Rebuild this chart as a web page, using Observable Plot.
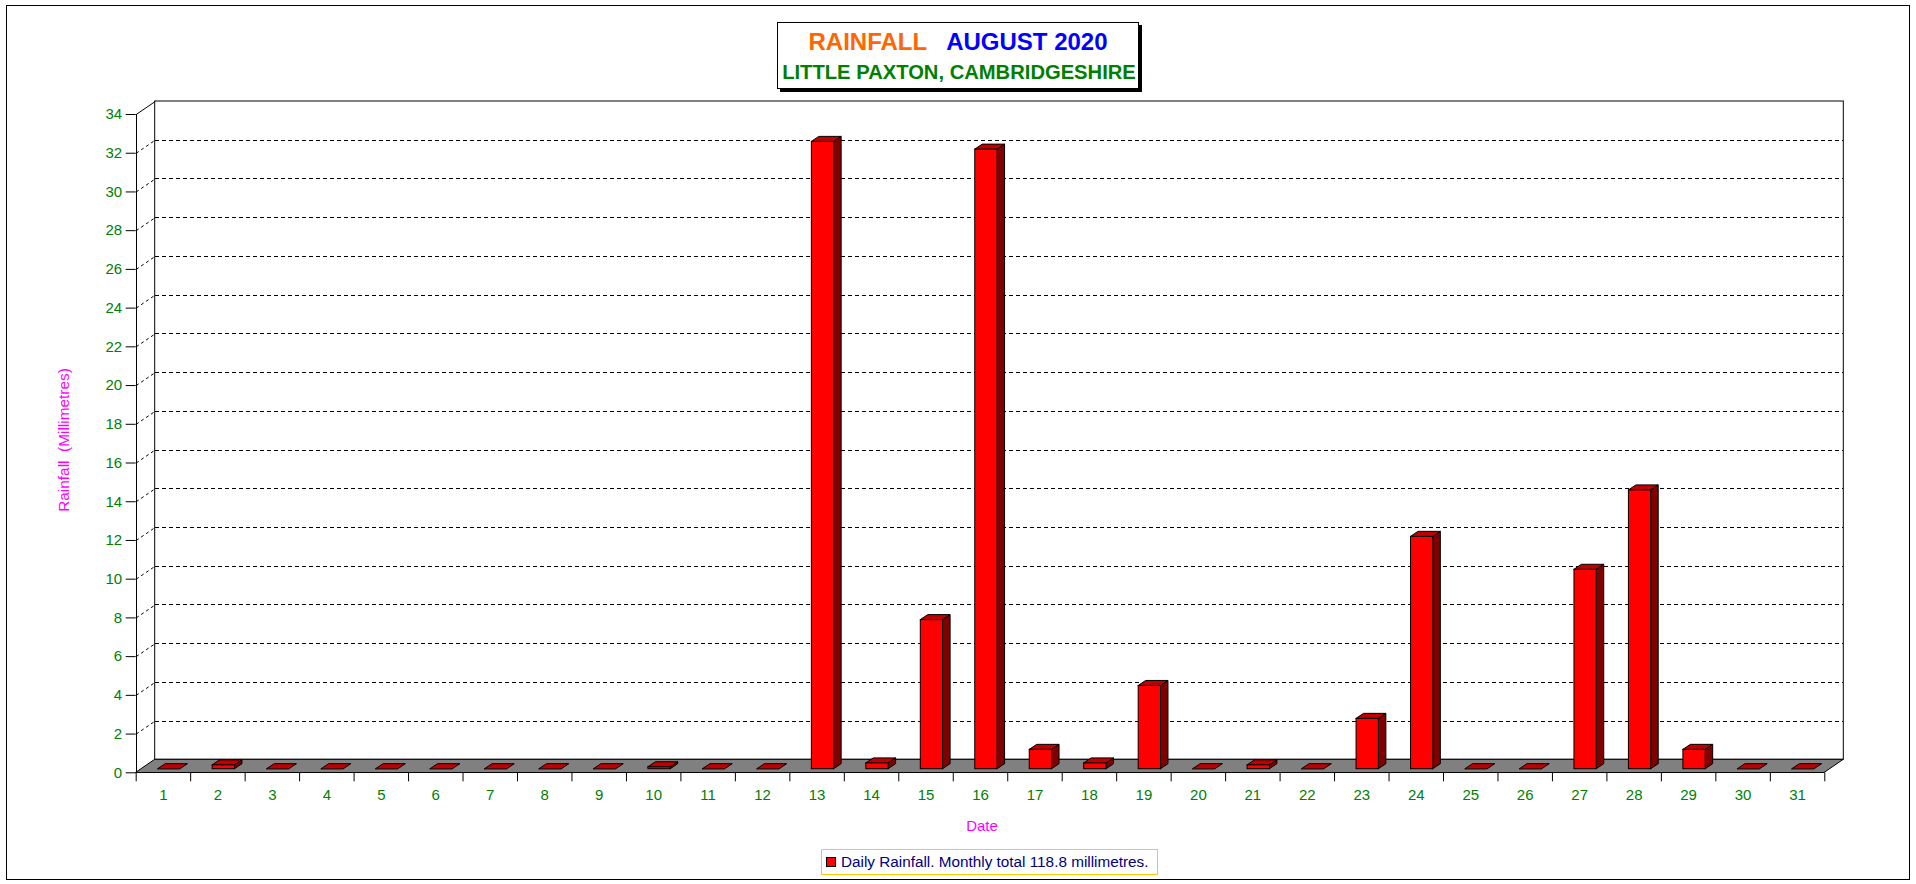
<!DOCTYPE html>
<html><head><meta charset="utf-8">
<script src="https://cdn.jsdelivr.net/npm/d3@7"></script>
<script src="https://cdn.jsdelivr.net/npm/@observablehq/plot@0.6"></script>
<style>
html,body{margin:0;padding:0;background:#fff;overflow:hidden;}
body{width:1916px;height:884px;position:relative;font-family:"Liberation Sans",Arial,sans-serif;}
.abs{position:absolute;white-space:nowrap;}
#chart{position:absolute;left:0;top:90px;}
</style></head><body>
<div class="abs" style="left:6px;top:5px;width:1902px;height:873px;border:1px solid #000;"></div>
<div class="abs" style="left:777px;top:22px;width:360px;height:65px;border:1px solid #000;box-shadow:3px 3px 0 #000;background:#fff;"></div>
<div class="abs" id="title1" style="left:777px;width:362px;top:30.4px;font-size:24px;line-height:24px;font-weight:bold;text-align:center;"><span style="color:#ff6600">RAINFALL</span><span style="display:inline-block;width:19px"></span><span style="color:#0000ff">AUGUST 2020</span></div>
<div class="abs" id="title2" style="left:777px;width:364px;top:62px;font-size:20.2px;line-height:20.2px;font-weight:bold;text-align:center;color:#008000;">LITTLE PAXTON, CAMBRIDGESHIRE</div>
<div id="chart"></div>
<div class="abs" style="left:63.5px;top:440px;font-size:15.4px;line-height:15.4px;color:#ff00ff;transform:translate(-50%,-50%) rotate(-90deg);">Rainfall&nbsp;&nbsp;(Millimetres)</div>
<div class="abs" style="left:982px;top:818px;font-size:15px;line-height:15px;color:#ff00ff;transform:translateX(-50%);">Date</div>
<div class="abs" style="left:821px;top:849px;width:335px;height:24px;border:1px solid #ffcc00;background:#fff;"></div>
<div class="abs" style="left:826px;top:857px;width:8px;height:8px;border:1px solid #000;background:#ff0000;"></div>
<div class="abs" style="left:841px;top:854px;font-size:15.3px;line-height:15.3px;color:#000080;">Daily Rainfall. Monthly total 118.8 millimetres.</div>
<script>
const days = [1,2,3,4,5,6,7,8,9,10,11,12,13,14,15,16,17,18,19,20,21,22,23,24,25,26,27,28,29,30,31];
const rainfall = [0,0.2,0,0,0,0,0,0,0,0.1,0,0,32.4,0.3,7.7,32.0,1.0,0.3,4.3,0,0.2,0,2.6,12.0,0,0,10.3,14.4,1.0,0,0];
const yTicks = [0,2,4,6,8,10,12,14,16,18,20,22,24,26,28,30,32,34];

const W = 1916, H = 750, mL = 135.7, mR = 91.7, mT = 24, mB = 67.7;
const pxDay = (W - mL - mR) / 31, pxMm = (H - mT - mB) / 34;
const wx = 19 / pxDay, wy = 13 / pxMm;          // back-wall depth in data units
const bx = 22 / pxDay, bw = 22.3 / pxDay;        // bar offset/width within a day
const da = 7.5 / pxDay, db = 5 / pxMm;           // bar depth
const lift = -3.6;

const bars = days.map((d, i) => ({day: d, v: rainfall[i], xl: d - 1 + bx, xr: d - 1 + bx + bw}));
const nz = bars.filter(b => b.v > 0);
const sidePts = nz.flatMap(b => [{day: b.day, x: b.xr, y1: 0, y2: b.v}, {day: b.day, x: b.xr + da, y1: db, y2: b.v + db}]);
const topPts = bars.flatMap(b => [{day: b.day, y: b.v, x1: b.xl, x2: b.xr}, {day: b.day, y: b.v + db, x1: b.xl + da, x2: b.xr + da}]);
const green = "#008000";
const font = "Liberation Sans, Arial, sans-serif";
const inner = yTicks.filter(v => v > 0 && v < 34);

const chart = Plot.plot({
  width: W, height: H,
  marginLeft: mL, marginRight: mR, marginTop: mT, marginBottom: mB,
  style: {background: "transparent", overflow: "visible", fontFamily: font, fontSize: "15px"},
  x: {domain: [0, 31], ticks: d3.range(0, 32), tickSize: 9, tickFormat: () => "", label: null},
  y: {domain: [0, 34], ticks: yTicks, tickSize: 10, tickFormat: () => "", label: null},
  marks: [
    Plot.rect([0], {x1: () => 0, x2: () => 31, y1: () => 0, y2: () => 34, dx: 19, dy: -13, fill: "#fff", stroke: "#000"}),
    Plot.ruleY(inner, {y: d => d, x1: () => 0, x2: () => 31, dx: 19, dy: -13, stroke: "#000", strokeDasharray: "4,3", shapeRendering: "crispEdges"}),
    Plot.link(inner, {x1: () => 0, y1: d => d, x2: () => wx, y2: d => d + wy, stroke: "#000", strokeDasharray: "3,3"}),
    Plot.link([34], {x1: () => 0, y1: d => d, x2: () => wx, y2: d => d + wy, stroke: "#000"}),
    Plot.areaX([{y: 0, x1: 0, x2: 31}, {y: wy, x1: wx, x2: 31 + wx}], {y: "y", x1: "x1", x2: "x2", fill: "#808080", stroke: "#000"}),
    Plot.ruleX([0], {x: d => d, y1: () => 0, y2: () => 34, stroke: "#000", shapeRendering: "crispEdges"}),
    Plot.areaY(sidePts, {x: "x", y1: "y1", y2: "y2", z: "day", fill: "#800000", stroke: "#000", dy: lift}),
    Plot.areaX(topPts, {y: "y", x1: "x1", x2: "x2", z: "day", fill: "#c00000", stroke: "#000", dy: lift}),
    Plot.rect(nz, {x1: "xl", x2: "xr", y1: () => 0, y2: "v", fill: "#ff0000", stroke: "#000", dy: lift}),
    Plot.text(yTicks, {x: () => 0, y: d => d, text: d => String(d), textAnchor: "end", dx: -14, fill: green, fontSize: 15, fontFamily: font}),
    Plot.text(days, {x: d => d - 0.5, y: () => 0, text: d => String(d), dy: 22, fill: green, fontSize: 15, fontFamily: font})
  ]
});
document.getElementById("chart").appendChild(chart);
</script>
</body></html>
